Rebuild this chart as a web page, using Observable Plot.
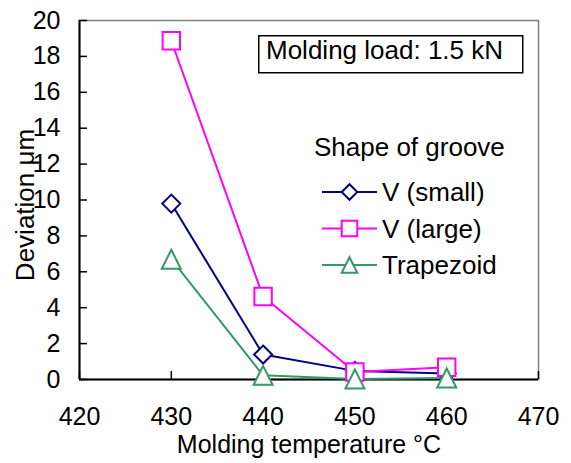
<!DOCTYPE html>
<html><head><meta charset="utf-8">
<script src="https://cdn.jsdelivr.net/npm/d3@7"></script>
<script src="https://cdn.jsdelivr.net/npm/@observablehq/plot@0.6"></script>
<style>
html,body{margin:0;padding:0;background:#fff;}
#wrap{position:relative;width:571px;height:463px;font-family:"Liberation Sans",Arial,sans-serif;}
</style></head>
<body><div id="wrap"></div>
<script>
// ---- data ----
const temps = [430, 440, 450, 460];
const vSmall = [9.8, 1.39, 0.48, 0.33];
const vLarge = [18.87, 4.62, 0.42, 0.68];
const trapezoid = [6.7, 0.23, 0.03, 0.08];
const seriesNames = ["V (small)", "V (large)", "Trapezoid"];
const seriesColors = ["#000080", "#FF00FF", "#339966"];
const xTicks = [420, 430, 440, 450, 460, 470];
const yTicks = [0, 2, 4, 6, 8, 10, 12, 14, 16, 18, 20];
const xDomain = [420, 470];
const yDomain = [0, 20];
const xLabel = "Molding temperature °C";
const yLabel = "Deviation μm";
const loadLabel = "Molding load: 1.5 kN";
const legendTitle = "Shape of groove";

const FONT = '"Liberation Sans", Arial, sans-serif';
const seriesValues = [vSmall, vLarge, trapezoid];
const rows = [];
seriesNames.forEach((s, i) => temps.forEach((t, j) => rows.push({series: s, temp: t, value: seriesValues[i][j]})));

// custom Excel-like marker shapes (size = PI r^2 -> half-extent r)
const half = size => Math.sqrt(size / Math.PI);
const symDiamond = {draw(c, size) {const h = half(size); c.moveTo(0, -h); c.lineTo(h, 0); c.lineTo(0, h); c.lineTo(-h, 0); c.closePath();}};
const symSquare = {draw(c, size) {const h = half(size); c.moveTo(-h, -h); c.lineTo(h, -h); c.lineTo(h, h); c.lineTo(-h, h); c.closePath();}};
const symTriangle = {draw(c, size) {const h = half(size); c.moveTo(0, -h); c.lineTo(h, h); c.lineTo(-h, h); c.closePath();}};
const symbols = [symDiamond, symSquare, symTriangle];
const radii = [9, 8.7, 9.5];

const plot = Plot.plot({
  width: 571,
  height: 463,
  marginLeft: 79,
  marginRight: 33,
  marginTop: 20,
  marginBottom: 84,
  style: {fontFamily: FONT, fontSize: "25px", background: "white", color: "black"},
  x: {domain: xDomain, axis: null},
  y: {domain: yDomain, axis: null},
  color: {domain: seriesNames, range: seriesColors},
  marks: [
    Plot.frame({stroke: "#808080", strokeWidth: 1.5}),
    Plot.axisX({ticks: xTicks, tickSize: 0, tickPadding: 28, fontSize: 25, label: null}),
    Plot.axisY({ticks: yTicks, tickSize: 0, tickPadding: 19, fontSize: 25, label: null}),
    Plot.axisX({ticks: xTicks, tickSize: -8, tickFormat: () => "", label: null, strokeWidth: 1.5}),
    Plot.axisY({ticks: yTicks, tickSize: -8, tickFormat: () => "", label: null, strokeWidth: 1.5}),
    Plot.ruleX([xDomain[0]], {stroke: "black", strokeWidth: 2}),
    Plot.ruleY([yDomain[0]], {stroke: "black", strokeWidth: 2}),
    Plot.line(rows, {x: "temp", y: "value", z: "series", stroke: "series", strokeWidth: 2}),
    ...seriesNames.map((s, i) => Plot.dot(rows.filter(d => d.series === s), {
      x: "temp", y: "value", symbol: symbols[i], r: radii[i],
      stroke: seriesColors[i], fill: "white", strokeWidth: 2
    })),
    Plot.text([xLabel], {text: d => d, frameAnchor: "bottom", lineAnchor: "middle", textAnchor: "middle", dy: 65, fontSize: 25}),
    Plot.text([yLabel], {text: d => d, frameAnchor: "left", lineAnchor: "middle", textAnchor: "middle", rotate: -90, dx: -54, dy: 5, fontSize: 26})
  ]
});

const wrap = document.getElementById("wrap");
wrap.appendChild(plot);

// ---- legend / annotation overlay ----
const ov = d3.create("svg")
  .attr("width", 571).attr("height", 463)
  .style("position", "absolute").style("left", "0px").style("top", "0px")
  .style("pointer-events", "none")
  .attr("font-family", FONT).attr("font-size", 26);

ov.append("rect").attr("x", 258.75).attr("y", 35.75).attr("width", 264).attr("height", 37)
  .attr("fill", "white").attr("stroke", "black").attr("stroke-width", 1.5);
ov.append("text").attr("x", 266).attr("y", 58.5).text(loadLabel);
ov.append("text").attr("x", 314).attr("y", 156).text(legendTitle);

const legSyms = [symDiamond, symSquare, symTriangle];
seriesNames.forEach((name, i) => {
  const cy = 192 + i * 36.5;
  const g = ov.append("g");
  g.append("line").attr("x1", 322).attr("x2", 377).attr("y1", cy).attr("y2", cy)
    .attr("stroke", seriesColors[i]).attr("stroke-width", 2);
  g.append("path").attr("transform", `translate(349.5,${cy})`)
    .attr("d", d3.symbol(legSyms[i], Math.PI * 7.8 * 7.8)())
    .attr("fill", "white").attr("stroke", seriesColors[i]).attr("stroke-width", 2);
  g.append("text").attr("x", 382).attr("y", cy + 9).text(name);
});
wrap.appendChild(ov.node());
</script>
</body></html>
